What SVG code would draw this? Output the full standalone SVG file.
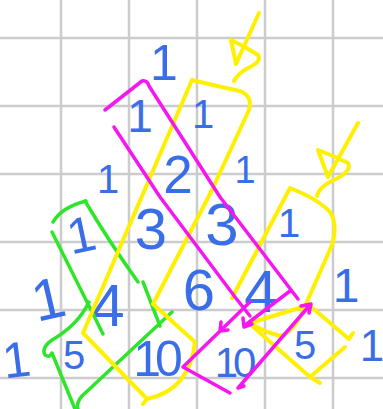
<svg xmlns="http://www.w3.org/2000/svg" width="383" height="409" viewBox="0 0 383 409">
<style>
.grid line{stroke:#cccccc;stroke-width:2.5}
.n{font-family:"Liberation Sans",Arial,sans-serif;fill:#3a6ee8;text-anchor:middle}
.s{fill:none;stroke-linecap:round;stroke-linejoin:round}
.m{stroke:#f516f0;stroke-width:3.5}
.y{stroke:#fff000;stroke-width:4}
.g{stroke:#2ee52a;stroke-width:3.5}
</style>
<rect width="383" height="409" fill="#ffffff"/>
<g id="grid" class="grid">
<line x1="61" y1="0" x2="61" y2="409"/>
<line x1="129" y1="0" x2="129" y2="409"/>
<line x1="197" y1="0" x2="197" y2="409"/>
<line x1="265" y1="0" x2="265" y2="409"/>
<line x1="333" y1="0" x2="333" y2="409"/>
<line x1="0" y1="38" x2="383" y2="38"/>
<line x1="0" y1="106" x2="383" y2="106"/>
<line x1="0" y1="174" x2="383" y2="174"/>
<line x1="0" y1="242" x2="383" y2="242"/>
<line x1="0" y1="310" x2="383" y2="310"/>
<line x1="0" y1="378" x2="383" y2="378"/>
</g>
<g id="numbers">
<text class="n" x="164" y="80" font-size="50">1</text>
<text class="n" x="140" y="132" font-size="46">1</text>
<text class="n" x="203" y="128" font-size="40">1</text>
<text class="n" x="108" y="193" font-size="40">1</text>
<text class="n" x="178" y="193" font-size="53">2</text>
<text class="n" x="245" y="183" font-size="38">1</text>
<text class="n" x="81" y="252" font-size="50" transform="rotate(-12 81 234)">1</text>
<text class="n" x="151" y="249" font-size="58">3</text>
<text class="n" x="222" y="245" font-size="60">3</text>
<text class="n" x="289" y="237" font-size="40">1</text>
<text class="n" x="48" y="319" font-size="58" transform="rotate(-13 48 298)">1</text>
<text class="n" x="108" y="326" font-size="60">4</text>
<text class="n" x="199" y="310" font-size="58">6</text>
<text class="n" x="261" y="312" font-size="60">4</text>
<text class="n" x="346" y="302" font-size="48">1</text>
<text class="n" x="16" y="377" font-size="50" transform="rotate(-7 16 357)">1</text>
<text class="n" x="74" y="369" font-size="40">5</text>
<text class="n" x="155" y="376" font-size="50" letter-spacing="-6">10</text>
<text class="n" x="233" y="377" font-size="42" letter-spacing="-5">10</text>
<text class="n" x="305" y="359" font-size="40">5</text>
<text class="n" x="372" y="361" font-size="44">1</text>
</g>
<g id="strokes">
<g id="green" class="s g">
<path d="M53,222 Q62,207 86,201"/>
<path d="M85,201 Q110,243 138,282"/>
<path d="M52,232 L103,334"/>
<path d="M143,282 L160,326"/>
<path d="M172,312 L82,396 Q76,403 78,409"/>
<path d="M89,302 Q78,325 52,340 Q41,348 45,355 Q50,358 52,353 L75,409"/>
</g>
<g id="yellow" class="s y">
<path d="M259,13 L236,64 M231,40 L236,64 M231,40 Q246,47 258,55 Q262,61 250,67 Q238,73 234,81"/>
<path d="M358,123 L328,177 M318,150 L328,177 M318,150 Q334,156 348,163 Q352,170 338,178 Q319,186 317,196"/>
<path d="M83,333 L192,80 Q212,85 240,91 Q253,96 249,110 L212,190 L153,304 L195,342 Q190,390 147,399 L83,333 M147,399 L143,404"/>
<path d="M232,298 L290,188 Q318,199 330,212 Q338,224 332,245 L306,304 Q296,330 281,336 Q266,333 250,323"/>
<path d="M250,323 L309,305 L349,339 L353,333 M345,347 L310,377 L320,383 M310,377 L251,325"/>
</g>
<g id="magenta" class="s m">
<path d="M105,110 Q128,92 142,81 Q147,80 149,86 L220,197 L298,299"/>
<path d="M114,127 L160,197 L235,297 L250,316"/>
<path d="M290,291 L244,326 M243,318 L244,327 L252,324"/>
<path d="M250,302 L183,367 L230,393 M221,322 L220,331 L228,330"/>
<path d="M244,386 L238,388 L310,305 M301,306 L311,304 L309,313"/>
</g>
</g>
</svg>
